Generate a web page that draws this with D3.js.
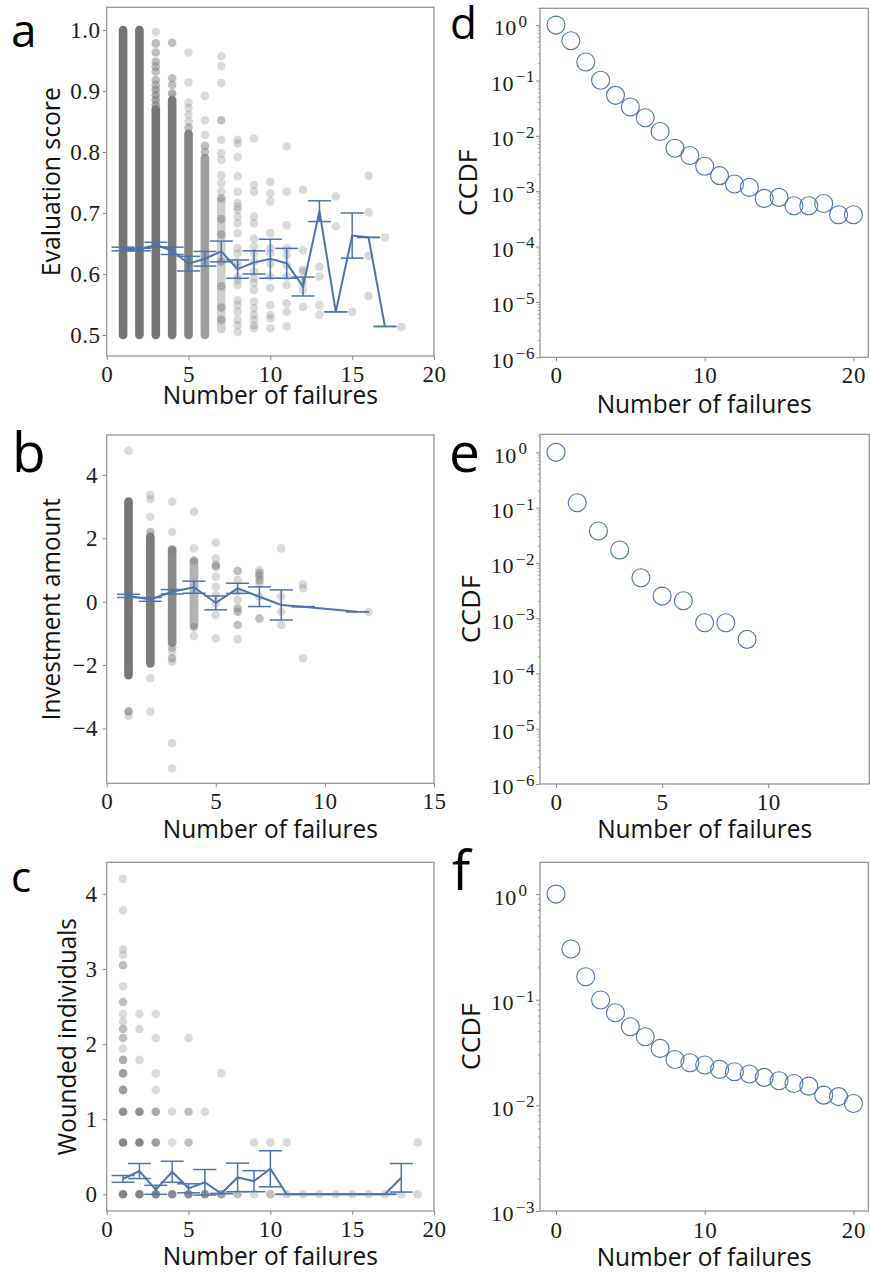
<!DOCTYPE html>
<html>
<head>
<meta charset="utf-8">
<script src="https://cdn.jsdelivr.net/npm/d3@7"></script>
<style>
  body { margin: 0; background: #fff; }
  svg { display: block; }
</style>
</head>
<body>
<svg id="fig" width="870" height="1274"></svg>
<script>
// ---------- Panel a: evaluation score vs number of failures ----------
// dense columns: [failures, low, high, relative density]
const aBands = [
  [1, 0.50, 1.00, 1.0], [2, 0.50, 1.00, 1.0], [3, 0.50, 0.87, 1.0],
  [4, 0.50, 0.885, 0.97], [5, 0.50, 0.83, 0.9], [6, 0.50, 0.79, 0.7],
  [7, 0.51, 0.72, 0.35]
];
// individual observations: [failures, score, overlap count]
const aPoints = [
  [3,0.997,1],[3,0.978,2],[3,0.963,2],[3,0.948,2],[3,0.94,2],[3,0.932,2],[3,0.918,2],[3,0.91,2],[3,0.902,3],[3,0.893,3],[3,0.885,3],[3,0.877,3],
  [4,0.979,2],[4,0.921,2],[4,0.91,2],[4,0.896,3],
  [5,0.963,1],[5,0.914,1],[5,0.881,1],[5,0.872,1],[5,0.861,1],[5,0.85,1],[5,0.84,2],
  [6,0.892,1],[6,0.852,1],[6,0.828,1],[6,0.81,2],[6,0.80,2],
  [7,0.957,1],[7,0.941,1],[7,0.913,1],[7,0.852,2],[7,0.82,1],[7,0.798,1],[7,0.787,1],[7,0.762,1],[7,0.749,1],[7,0.735,1],[7,0.724,2],
  [7,0.69,2],[7,0.665,2],[7,0.62,2],[7,0.58,2],[7,0.545,2],[7,0.525,2],
  [8,0.82,1],[8,0.814,1],[8,0.792,1],[8,0.76,1],[8,0.735,1],[8,0.716,1],[8,0.71,1],[8,0.705,1],[8,0.694,1],[8,0.683,1],[8,0.667,1],[8,0.642,1],[8,0.634,1],[8,0.62,1],[8,0.612,1],[8,0.596,1],[8,0.59,1],[8,0.582,1],[8,0.557,1],[8,0.549,1],[8,0.538,1],[8,0.525,1],[8,0.516,1],[8,0.505,1],
  [9,0.822,1],[9,0.746,1],[9,0.735,1],[9,0.694,1],[9,0.683,1],[9,0.658,1],[9,0.645,1],[9,0.634,1],[9,0.62,1],[9,0.604,1],[9,0.593,1],[9,0.585,1],[9,0.574,1],[9,0.555,1],[9,0.544,1],[9,0.533,1],[9,0.525,1],[9,0.516,1],[9,0.511,1],
  [10,0.751,1],[10,0.732,1],[10,0.719,1],[10,0.667,1],[10,0.642,1],[10,0.634,1],[10,0.617,1],[10,0.596,1],[10,0.577,1],[10,0.549,1],[10,0.533,1],[10,0.527,1],[10,0.511,1],
  [11,0.809,1],[11,0.735,1],[11,0.68,1],[11,0.642,1],[11,0.631,1],[11,0.615,1],[11,0.596,1],[11,0.582,1],[11,0.552,1],[11,0.538,1],[11,0.514,1],
  [12,0.738,1],[12,0.639,1],[12,0.607,1],[12,0.604,1],[12,0.585,1],[12,0.574,1],[12,0.546,1],
  [13,0.612,1],[13,0.596,1],[13,0.549,1],[13,0.533,1],
  [14,0.727,1],[14,0.678,1],
  [15,0.538,1],
  [16,0.761,1],[16,0.701,1],[16,0.630,1],[16,0.564,1],
  [17,0.660,1],
  [18,0.513,1]
];
const aMeanX = [1, 2, 3, 4, 5, 6, 7, 8, 9, 10, 11, 12, 13, 14, 15, 16, 17];
const aMean  = [0.641, 0.640, 0.648, 0.638, 0.617, 0.625, 0.637, 0.608, 0.619, 0.625, 0.6175, 0.5795, 0.703, 0.538, 0.663, 0.660, 0.514];
const aErr   = [0.003, 0.002, 0.004, 0.006, 0.012, 0.012, 0.017, 0.015, 0.019, 0.032, 0.0245, 0.0155, 0.017, 0, 0.037, 0, 0];

// ---------- Panel b: investment amount vs number of failures ----------
const bBands = [
  [1, -2.32, 3.16, 1.0], [2, -1.95, 2.05, 0.95], [3, -1.30, 1.62, 0.85], [4, -0.74, 1.26, 0.55]
];
const bPoints = [
  [1,4.76,1],[1,-3.47,3],[1,-3.60,1],[1,-2.05,1],[1,-2.15,1],
  [2,3.37,1],[2,3.23,1],[2,2.68,1],[2,2.20,2],[2,-2.42,1],[2,-3.47,1],
  [3,3.16,1],[3,2.20,1],[3,1.65,2],[3,-1.45,2],[3,-1.58,1],[3,-1.79,2],[3,-1.90,1],[3,-4.47,1],[3,-5.26,1],
  [4,2.84,1],[4,1.68,1],[4,1.30,2],[4,-0.80,2],[4,-1.08,1],
  [5,1.86,1],[5,1.37,1],[5,1.16,2],[5,1.10,2],[5,0.79,1],[5,0.47,1],[5,0.21,1],[5,-0.05,1],[5,-0.42,1],[5,-1.16,1],
  [6,0.97,2],[6,0.68,1],[6,0.32,1],[6,0.05,1],[6,-0.21,2],[6,-0.32,2],[6,-0.74,2],[6,-1.19,1],
  [7,1.00,1],[7,0.90,2],[7,0.80,2],[7,0.68,2],[7,0.58,1],[7,0.16,1],[7,-0.53,2],
  [8,1.68,1],[8,0.16,1],[8,-0.32,1],[8,-0.74,1],
  [9,0.55,1],[9,0.42,1],[9,-1.79,1],
  [12,-0.33,1]
];
const bMeanX = [1, 2, 3, 4, 5, 6, 7, 8, 9, 11.5];
const bMean  = [0.18, 0.07, 0.31, 0.455, -0.04, 0.42, 0.155, -0.105, -0.16, -0.32];
const bErr   = [0.05, 0.06, 0.07, 0.19, 0.22, 0.16, 0.31, 0.475, 0, 0];

// ---------- Panel c: wounded individuals vs number of failures ----------
const cPoints = [
  [1,4.20,1],[1,3.78,1],[1,3.26,1],[1,3.19,1],[1,3.05,2],[1,2.77,1],[1,2.56,2],[1,2.40,1],[1,2.30,1],[1,2.20,2],[1,2.08,2],[1,1.94,1],[1,1.79,3],[1,1.61,4],[1,1.39,4],[1,1.10,6],[1,0.69,8],[1,0,10],
  [2,2.40,1],[2,2.20,1],[2,1.79,1],[2,1.10,6],[2,0.69,8],[2,0,10],
  [3,2.40,1],[3,2.08,1],[3,1.61,1],[3,1.39,1],[3,1.10,3],[3,0.69,4],[3,0,8],
  [4,1.10,1],[4,0.69,1],[4,0,7],
  [5,2.08,1],[5,1.10,2],[5,0.69,2],[5,0,7],
  [6,1.10,1],[6,0,6],
  [7,1.61,1],[7,0,4],
  [8,0,2],
  [9,0.69,1],[9,0,1],
  [10,0.69,1],[10,0,2],
  [11,0.69,1],[11,0,1],
  [12,0,1],[13,0,1],[14,0,1],[15,0,1],[16,0,1],[17,0,1],[18,0,1],
  [19,0.69,1],[19,0,1]
];
const cMeanX = [1, 2, 3, 4, 5, 6, 7, 8, 9, 10, 11, 12, 13, 14, 15, 16, 17, 18];
const cMean  = [0.205, 0.31, 0.06, 0.30, 0.08, 0.16, 0.01, 0.225, 0.175, 0.34, 0, 0, 0, 0, 0, 0, 0, 0.22];
const cErr   = [0.045, 0.10, 0.06, 0.14, 0.06, 0.17, 0, 0.19, 0.14, 0.24, 0, 0, 0, 0, 0, 0, 0, 0.19];

// ---------- Panels d-f: CCDF of number of failures ----------
const dFail = [0,1,2,3,4,5,6,7,8,9,10,11,12,13,14,15,16,17,18,19,20];
const dCcdf = [1, 0.52, 0.216, 0.101, 0.0538, 0.0331, 0.0212, 0.0120, 0.00598, 0.00440, 0.00282,
               0.00191, 0.00135, 0.00117, 0.000741, 0.000773, 0.000546, 0.000546, 0.000601, 0.000375, 0.000375];
const eFail = [0,1,2,3,4,5,6,7,8,9];
const eCcdf = [1, 0.1228, 0.0377, 0.0171, 0.0054, 0.00251, 0.00207, 0.000828, 0.000828, 0.000413];
const fFail = [0,1,2,3,4,5,6,7,8,9,10,11,12,13,14,15,16,17,18,19,20];
const fCcdf = [1, 0.302, 0.165, 0.0993, 0.0753, 0.0555, 0.0446, 0.0346, 0.0272, 0.0253, 0.0241,
               0.0219, 0.0208, 0.0198, 0.0184, 0.0171, 0.0161, 0.0152, 0.0125, 0.0121, 0.0104];

// ---------- tick values ----------
const ticksX20 = [0, 5, 10, 15, 20];
const ticksX15 = [0, 5, 10, 15];
const ticksXLog20 = [0, 10, 20];
const ticksXLog10 = [0, 5, 10];
const ticksA = [0.5, 0.6, 0.7, 0.8, 0.9, 1.0];
const ticksB = [-4, -2, 0, 2, 4];
const ticksC = [0, 1, 2, 3, 4];
const decades6 = [1, 1e-1, 1e-2, 1e-3, 1e-4, 1e-5, 1e-6];
const decades3 = [1, 1e-1, 1e-2, 1e-3];

// ---------- drawing ----------
const svg = d3.select("#fig");
const BLUE = "#4c72b0";
const SPINE = "#8c8c8c";
const TICKFONT = "'Liberation Serif', 'Times New Roman', serif";
const SANS = "'Open Sans', 'DejaVu Sans', sans-serif";
const R = 4.3;       // scatter marker radius
const CAP = 11.5;    // half width of error-bar caps

function frame(box) {
  svg.append("rect")
    .attr("x", box.l).attr("y", box.t)
    .attr("width", box.r - box.l).attr("height", box.b - box.t)
    .attr("fill", "none").attr("stroke", SPINE).attr("stroke-width", 1.2);
}

function styleAxis(g, size) {
  g.select(".domain").remove();
  g.selectAll(".tick line").attr("stroke", SPINE).attr("stroke-width", 1);
  g.selectAll(".tick text")
    .attr("fill", "#1a1a1a")
    .style("font-family", TICKFONT)
    .style("font-size", size + "px")
    .style("letter-spacing", "0.6px");
}

function xAxis(x, box, ticks, labelY) {
  const g = svg.append("g").attr("transform", `translate(0,${box.b})`)
    .call(d3.axisBottom(x).tickValues(ticks).tickSize(4).tickFormat(d3.format("d")));
  styleAxis(g, 23);
  g.selectAll(".tick text").attr("y", labelY).attr("dy", null);
}

function yAxisLinear(y, box, ticks, fmt, gap) {
  const g = svg.append("g").attr("transform", `translate(${box.l},0)`)
    .call(d3.axisLeft(y).tickValues(ticks).tickSize(4).tickFormat(fmt));
  styleAxis(g, 23);
  g.selectAll(".tick text").attr("x", -gap).attr("dy", "0.33em");
}

function yAxisLog(y, box, decades) {
  const g = svg.append("g").attr("transform", `translate(${box.l},0)`)
    .call(d3.axisLeft(y).tickValues(decades).tickSize(4).tickFormat(""));
  styleAxis(g, 22);
  g.selectAll(".tick text").each(function (d) {
    const e = Math.round(Math.log10(d));
    const t = d3.select(this)
      .attr("x", e === 0 ? -12.5 : -5)
      .attr("dy", "0.45em")
      .text("10");
    t.append("tspan")
      .attr("dy", "-0.5em")
      .attr("dx", "1.5")
      .style("font-size", "17px")
      .text(e === 0 ? "0" : "\u2212" + Math.abs(e));
  });
  // minor ticks between decades
  const [lo, hi] = y.domain();
  const minors = [];
  for (let p = Math.floor(Math.log10(lo)); p <= Math.ceil(Math.log10(hi)); p++) {
    for (let k = 2; k <= 9; k++) {
      const v = k * Math.pow(10, p);
      if (v > lo && v < hi) minors.push(v);
    }
  }
  g.selectAll("line.minor").data(minors).join("line")
    .attr("class", "minor")
    .attr("x1", 0).attr("x2", -2.2)
    .attr("y1", d => y(d)).attr("y2", d => y(d))
    .attr("stroke", SPINE).attr("stroke-width", 0.8);
}

function xLabel(box, baseline, len) {
  svg.append("text")
    .attr("x", (box.l + box.r) / 2).attr("y", baseline)
    .attr("text-anchor", "middle")
    .attr("textLength", len).attr("lengthAdjust", "spacingAndGlyphs")
    .style("font-family", SANS).style("font-size", "25px").attr("fill", "#111")
    .text("Number of failures");
}

function yLabel(box, baseX, text, len) {
  svg.append("text")
    .attr("transform", `translate(${baseX},${(box.t + box.b) / 2}) rotate(-90)`)
    .attr("text-anchor", "middle")
    .attr("textLength", len).attr("lengthAdjust", "spacingAndGlyphs")
    .style("font-family", SANS).style("font-size", "25px").attr("fill", "#111")
    .text(text);
}

function panelLetter(letter, x, y, size) {
  svg.append("text")
    .attr("x", x).attr("y", y)
    .style("font-family", SANS).style("font-size", size + "px").attr("fill", "#000")
    .text(letter);
}

function scatterPanel(o) {
  const x = d3.scaleLinear().domain(o.xDomain).range([o.box.l, o.box.r]);
  const y = d3.scaleLinear().domain(o.yDomain).range([o.box.b, o.box.t]);
  const g = svg.append("g");

  // dense runs of overlapping markers
  g.selectAll("line.band").data(o.bands || []).join("line")
    .attr("class", "band")
    .attr("x1", d => x(d[0])).attr("x2", d => x(d[0]))
    .attr("y1", d => y(d[1])).attr("y2", d => y(d[2]))
    .attr("stroke", "#757575").attr("stroke-opacity", d => d[3])
    .attr("stroke-width", 2 * R).attr("stroke-linecap", "round");

  // individual observations, darker where several coincide
  g.selectAll("circle.pt").data(o.points).join("circle")
    .attr("class", "pt")
    .attr("cx", d => x(d[0])).attr("cy", d => y(d[1])).attr("r", R)
    .attr("fill", "#808080")
    .attr("fill-opacity", d => 1 - Math.pow(0.7, d[2]));

  // mean with error bars
  const m = o.meanX.map((v, i) => ({ x: v, m: o.mean[i], e: o.err[i] }));
  const eb = g.append("g").attr("stroke", BLUE).attr("stroke-width", 1.5).attr("fill", "none");
  eb.selectAll("line.v").data(m).join("line")
    .attr("x1", d => x(d.x)).attr("x2", d => x(d.x))
    .attr("y1", d => y(d.m - d.e)).attr("y2", d => y(d.m + d.e));
  eb.selectAll("line.cu").data(m).join("line")
    .attr("x1", d => x(d.x) - CAP).attr("x2", d => x(d.x) + CAP)
    .attr("y1", d => y(d.m + d.e)).attr("y2", d => y(d.m + d.e));
  eb.selectAll("line.cl").data(m).join("line")
    .attr("x1", d => x(d.x) - CAP).attr("x2", d => x(d.x) + CAP)
    .attr("y1", d => y(d.m - d.e)).attr("y2", d => y(d.m - d.e));
  g.append("path").datum(m)
    .attr("d", d3.line().x(d => x(d.x)).y(d => y(d.m)))
    .attr("fill", "none").attr("stroke", BLUE).attr("stroke-width", 2)
    .attr("stroke-linejoin", "miter");

  frame(o.box);
  xAxis(x, o.box, o.xTicks, o.xTickY);
  yAxisLinear(y, o.box, o.yTicks, o.yFormat, o.yGap);
}

function ccdfPanel(o) {
  const x = d3.scaleLinear().domain(o.xDomain).range([o.box.l, o.box.r]);
  const y = d3.scaleLog().domain(o.yDomain).range([o.box.b, o.box.t]);
  const pts = o.fail.map((f, i) => [f, o.ccdf[i]]);
  svg.append("g").selectAll("circle").data(pts).join("circle")
    .attr("cx", d => x(d[0])).attr("cy", d => y(d[1])).attr("r", 9)
    .attr("fill", "none").attr("stroke", BLUE).attr("stroke-width", 1.1);
  frame(o.box);
  xAxis(x, o.box, o.xTicks, o.xTickY);
  yAxisLog(y, o.box, o.decades);
}

// panel a
const boxA = { l: 106.7, t: 7.3, r: 434, b: 356 };
scatterPanel({
  box: boxA, xDomain: [0, 20], yDomain: [0.4656, 1.0372],
  bands: aBands, points: aPoints, meanX: aMeanX, mean: aMean, err: aErr,
  xTicks: ticksX20, xTickY: 26, yTicks: ticksA, yFormat: d3.format(".1f"), yGap: 6
});
xLabel(boxA, 404, 215);
yLabel(boxA, 60, "Evaluation score", 189);
panelLetter("a", 11, 47, 46);

// panel b
const boxB = { l: 106.7, t: 435, r: 434, b: 783.3 };
scatterPanel({
  box: boxB, xDomain: [0, 15], yDomain: [-5.735, 5.26],
  bands: bBands, points: bPoints, meanX: bMeanX, mean: bMean, err: bErr,
  xTicks: ticksX15, xTickY: 26, yTicks: ticksB, yFormat: d3.format("d"), yGap: 8.5
});
xLabel(boxB, 838, 215);
yLabel(boxB, 60, "Investment amount", 222);
panelLetter("b", 12, 472, 55);

// panel c
const boxC = { l: 106.7, t: 862.3, r: 434, b: 1211 };
scatterPanel({
  box: boxC, xDomain: [0, 20], yDomain: [-0.222, 4.42],
  bands: [], points: cPoints, meanX: cMeanX, mean: cMean, err: cErr,
  xTicks: ticksX20, xTickY: 25.5, yTicks: ticksC, yFormat: d3.format("d"), yGap: 9
});
xLabel(boxC, 1265, 215);
yLabel(boxC, 76, "Wounded individuals", 237);
panelLetter("c", 11, 892, 42);

// panel d
const boxD = { l: 540, t: 8.3, r: 868.3, b: 357.3 };
ccdfPanel({
  box: boxD, xDomain: [-1.076, 21.0], yDomain: [1e-6, 2.01],
  fail: dFail, ccdf: dCcdf, xTicks: ticksXLog20, xTickY: 25.5, decades: decades6
});
xLabel(boxD, 412.5, 215);
yLabel(boxD, 477, "CCDF", 67);
panelLetter("d", 450, 39, 44);

// panel e
const boxE = { l: 540, t: 434.3, r: 869.3, b: 784 };
ccdfPanel({
  box: boxE, xDomain: [-0.754, 14.76], yDomain: [1e-6, 2.12],
  fail: eFail, ccdf: eCcdf, xTicks: ticksXLog10, xTickY: 25.5, decades: decades6
});
xLabel(boxE, 838, 215);
yLabel(boxE, 480, "CCDF", 68);
panelLetter("e", 449, 472, 55);

// panel f
const boxF = { l: 540, t: 862.3, r: 868.3, b: 1211 };
ccdfPanel({
  box: boxF, xDomain: [-1.076, 21.0], yDomain: [1e-3, 2.0],
  fail: fFail, ccdf: fCcdf, xTicks: ticksXLog20, xTickY: 26.5, decades: decades3
});
xLabel(boxF, 1266, 215);
yLabel(boxF, 480, "CCDF", 67);
panelLetter("f", 452, 890, 54);
</script>
</body>
</html>
